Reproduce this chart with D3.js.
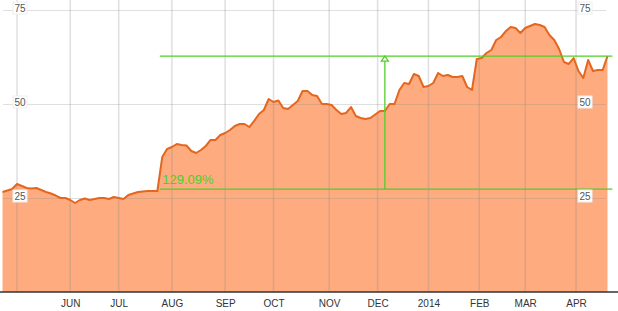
<!DOCTYPE html>
<html>
<head>
<meta charset="utf-8">
<script src="https://cdn.jsdelivr.net/npm/d3@7"></script>
<style>
  html, body { margin: 0; padding: 0; background: #fff; }
  svg { display: block; }
  text { font-family: "Liberation Sans", Arial, sans-serif; }
</style>
</head>
<body>
<svg id="chart" width="618" height="311"></svg>
<script>
// Closing prices sampled every 2 trading days (Apr 2013 - Apr 2014)
const prices = [
  26.60, 26.99, 27.39, 28.72, 28.19, 27.66, 27.53, 27.66, 27.13, 26.60,
  26.20, 25.66, 25.00, 25.00, 24.47, 23.67, 24.47, 24.87, 24.47, 24.73,
  25.00, 25.00, 24.73, 25.27, 25.00, 24.73, 25.80, 26.20, 26.60, 26.73,
  26.86, 26.86, 26.86, 35.90, 38.03, 38.56, 39.36, 39.10, 38.96, 37.50,
  36.97, 37.77, 38.83, 40.43, 40.43, 41.76, 42.29, 43.09, 44.15, 44.68,
  44.68, 43.88, 45.48, 47.34, 48.40, 51.33, 50.53, 50.93, 48.94, 48.67,
  49.73, 50.80, 53.46, 53.46, 52.39, 52.13, 50.00, 50.00, 49.73, 48.40,
  47.34, 47.61, 49.20, 46.81, 46.28, 46.01, 46.28, 47.21, 48.14, 48.14,
  50.00, 50.00, 53.72, 55.59, 55.32, 57.98, 57.45, 54.52, 54.79, 55.59,
  58.24, 57.45, 57.71, 57.18, 57.18, 57.45, 54.52, 53.72, 61.97, 62.23,
  63.56, 64.36, 67.02, 67.82, 69.41, 70.48, 70.21, 68.88, 70.21, 70.74,
  71.28, 71.01, 70.48, 68.35, 67.02, 64.63, 61.17, 60.64, 62.23, 58.78,
  56.91, 61.70, 58.78, 59.04, 59.04, 62.77
];
const sampleStep = 2;           // trading days between samples
const totalDays = 250;          // trading days shown

// Month boundaries (trading-day index) and labels
const monthDays   = [6, 28, 48, 70, 92, 112, 135, 155, 176, 197, 216, 237];
const monthLabels = ["", "JUN", "JUL", "AUG", "SEP", "OCT", "NOV", "DEC", "2014", "FEB", "MAR", "APR"];

// Y ticks
const yTicks = [25, 50, 75];

// Performance annotation
const baseValue = 27.38;
const endValue = 62.73;
const annotationStartDay = 65;
const annotationMarkerDay = 158;
const annotationEndDay = 252;
const changeLabel = "129.09%";

const svg = d3.select("#chart");
const x = d3.scaleLinear().domain([0, totalDays]).range([2.5, 607.5]);
const y = d3.scaleLinear().domain([0, 75]).range([292, 10]);

const data = prices.map((v, i) => ({ d: i * sampleStep, v }));

// Area fill
const area = d3.area().x(p => x(p.d)).y0(y(0)).y1(p => y(p.v));
svg.append("path").datum(data)
  .attr("d", area)
  .attr("fill", "#fdab7f");

// Gridlines (drawn over the fill, translucent)
const grid = svg.append("g").attr("stroke", "rgba(140,140,140,0.28)");
grid.selectAll("line.v").data(monthDays).join("line")
  .attr("x1", d => x(d)).attr("x2", d => x(d))
  .attr("y1", 0).attr("y2", 292)
  .attr("stroke-width", 1.5);
grid.selectAll("line.h").data(yTicks).join("line")
  .attr("x1", 3).attr("x2", 606)
  .attr("y1", d => y(d) + 0.5).attr("y2", d => y(d) + 0.5)
  .attr("stroke-width", 1);

// Price line
const line = d3.line().x(p => x(p.d)).y(p => y(p.v));
svg.append("path").datum(data)
  .attr("d", line)
  .attr("fill", "none")
  .attr("stroke", "#e5661e")
  .attr("stroke-width", 2)
  .attr("stroke-linejoin", "round");

// Annotation lines
const green = "#4fcf2a";
const ann = svg.append("g").attr("stroke", green).attr("stroke-width", 1.3).attr("fill", "none");
ann.append("line")
  .attr("x1", x(annotationStartDay)).attr("x2", x(annotationEndDay))
  .attr("y1", y(endValue)).attr("y2", y(endValue));
ann.append("line")
  .attr("x1", x(annotationStartDay)).attr("x2", x(annotationEndDay))
  .attr("y1", y(baseValue)).attr("y2", y(baseValue));
ann.append("line")
  .attr("x1", x(annotationMarkerDay)).attr("x2", x(annotationMarkerDay))
  .attr("y1", y(endValue)).attr("y2", y(baseValue));
const mx = x(annotationMarkerDay), my = y(endValue);
ann.append("path")
  .attr("d", `M${mx},${my} L${mx - 3.5},${my + 5} L${mx + 3.5},${my + 5} Z`)
  .attr("fill", "#fff");
svg.append("text")
  .attr("x", x(annotationStartDay) + 2.5)
  .attr("y", y(baseValue) - 5)
  .attr("font-size", 13)
  .attr("fill", green)
  .text(changeLabel);

// Bottom axis
const xAxis = d3.axisBottom(x).tickValues(monthDays)
  .tickFormat((d, i) => monthLabels[i]).tickSize(0).tickPadding(8);
const gx = svg.append("g").attr("transform", "translate(0,292)").call(xAxis);
gx.select(".domain").remove();
gx.selectAll("text").attr("font-size", 10).attr("fill", "#333")
  .style("font-family", "'Liberation Sans', Arial, sans-serif");
svg.append("line").attr("x1", 0).attr("x2", 618).attr("y1", 292).attr("y2", 292)
  .attr("stroke", "#333").attr("stroke-width", 1.5);

// Y labels, left and right, in white boxes
[20, 585].forEach(cx => {
  const g = svg.append("g");
  const lab = g.selectAll("g").data(yTicks).join("g")
    .attr("transform", d => `translate(${cx},${y(d) - 2})`);
  lab.append("rect").attr("x", -7).attr("y", -6).attr("width", 14).attr("height", 12)
    .attr("fill", "#fff").attr("stroke", "#eee");
  lab.append("text").attr("text-anchor", "middle").attr("dy", "0.35em")
    .attr("font-size", 10).attr("fill", "#555").text(d => d);
});
</script>
</body>
</html>
